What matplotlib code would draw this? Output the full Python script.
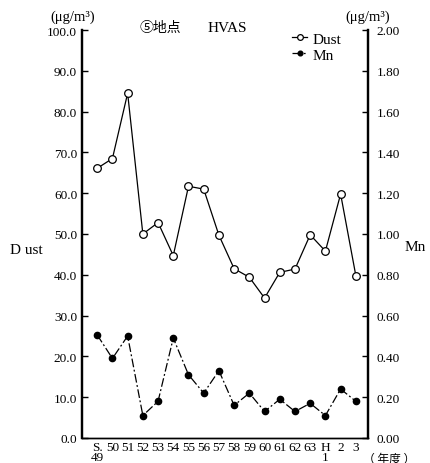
"""
Dust / Mn annual means at site 5 (HVAS), S.49 - H.3.
"""
import matplotlib
matplotlib.use("Agg")
import matplotlib.pyplot as plt

# Data
years = ["S.\n49", "50", "51", "52", "53", "54", "55", "56", "57", "58",
         "59", "60", "61", "62", "63", "H\n1", "2", "3"]
dust = [66.1, 68.5, 84.5, 50.0, 52.8, 44.7, 61.7, 61.0, 49.7, 41.5,
        39.4, 34.3, 40.6, 41.4, 49.8, 45.8, 59.8, 39.8]
mn = [0.505, 0.39, 0.50, 0.11, 0.18, 0.49, 0.31, 0.22, 0.33, 0.16,
      0.22, 0.13, 0.19, 0.13, 0.17, 0.11, 0.24, 0.18]
dust_ticks = [0.0, 10.0, 20.0, 30.0, 40.0, 50.0, 60.0, 70.0, 80.0, 90.0, 100.0]
mn_ticks = [0.0, 0.2, 0.4, 0.6, 0.8, 1.0, 1.2, 1.4, 1.6, 1.8, 2.0]

SERIF = ["Liberation Serif", "Noto Sans CJK JP", "DejaVu Serif"]
CJK = ["Noto Sans CJK JP", "Liberation Serif"]

plt.rcParams["font.family"] = SERIF
plt.rcParams["font.size"] = 9.5

fig = plt.figure(figsize=(4.3, 4.64), dpi=100)
ax = fig.add_axes([82 / 430, 1 - 439 / 464, 286 / 430, 408 / 464])
ax2 = ax.twinx()

x = list(range(len(years)))

ax.plot(x, dust, "-", color="black", lw=0.9, marker="o", ms=5.5,
        mfc="white", mec="black", mew=0.9, label="Dust", zorder=3)
ax2.plot(x, mn, color="black", lw=0.9, linestyle=(0, (7, 2, 1.5, 2)),
         marker="o", ms=4.5, mfc="black", mec="black", label="Mn", zorder=3)

ax.set_xlim(-1, 17.8)
ax.set_ylim(0, 100)
ax2.set_ylim(0, 2.0)

ax.set_xticks(x)
ax.set_xticklabels(years, va="top", linespacing=0.8)
ax.tick_params(axis="x", length=0, pad=2, labelsize=9.5)

ax.set_yticks(dust_ticks)
ax.set_yticklabels([f"{v:.1f}" for v in dust_ticks])
ax.tick_params(axis="y", direction="in", length=4, width=1, pad=3.5,
               labelsize=9.5)

ax2.set_yticks(mn_ticks)
ax2.set_yticklabels([f"{v:.2f}" for v in mn_ticks])
ax2.tick_params(axis="y", direction="in", length=4, width=1, pad=6,
                labelsize=9.5)

for a in (ax, ax2):
    a.spines["top"].set_visible(False)
    a.spines["left"].set_linewidth(1.6)
    a.spines["right"].set_linewidth(1.6)
    a.spines["bottom"].set_linewidth(1.0)

# axis labels and units
fig.text(10 / 430, 1 - 250 / 464, "D ust", fontsize=11, va="center", ha="left")
fig.text(405 / 430, 1 - 248 / 464, "Mn", fontsize=11, va="center", ha="left")
fig.text(73 / 430, 1 - 17 / 464, "(μg/m³)", fontsize=10.5, va="center",
         ha="center")
fig.text(368 / 430, 1 - 17 / 464, "(μg/m³)", fontsize=10.5, va="center",
         ha="center")
fig.text(140 / 430, 1 - 28 / 464, "⑤地点", fontsize=10, va="center",
         ha="left", family=CJK)
fig.text(208 / 430, 1 - 28 / 464, "HVAS", fontsize=11, va="center", ha="left")
fig.text(389 / 430, 1 - 459 / 464, "（ 年度 ）", fontsize=8.5, va="center",
         ha="center", family=CJK)

h1, l1 = ax.get_legend_handles_labels()
h2, l2 = ax2.get_legend_handles_labels()
ax.legend(h1 + h2, l1 + l2, loc="upper left", bbox_to_anchor=(0.735, 0.995),
          frameon=False, handlelength=1.0, handletextpad=0.3,
          labelspacing=0.15, fontsize=11, markerscale=0.75,
          borderaxespad=0, borderpad=0)

fig.savefig("out.png", dpi=100)
